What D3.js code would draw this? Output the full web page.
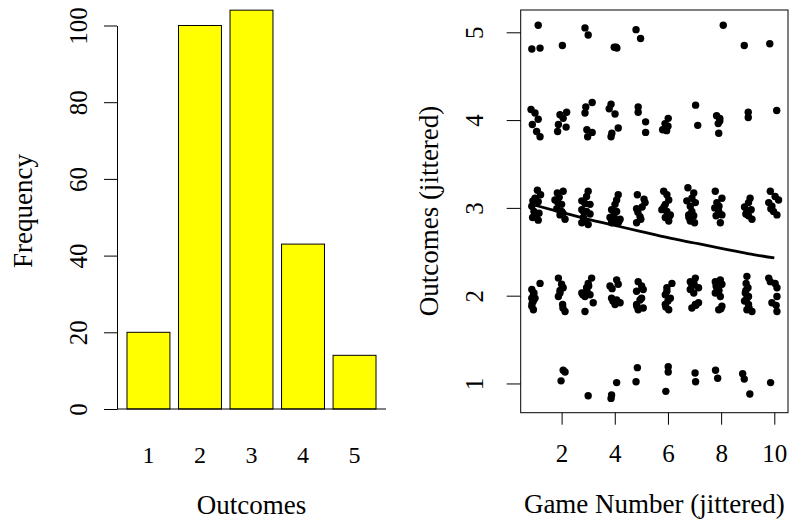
<!DOCTYPE html>
<html>
<head>
<meta charset="utf-8">
<script src="https://cdn.jsdelivr.net/npm/d3@7"></script>
<style>
  body { margin: 0; background: #fff; }
  svg { display: block; }
  text { font-family: "Liberation Serif", "Times New Roman", serif; fill: #000; }
</style>
</head>
<body>
<svg id="chart" width="790" height="520"></svg>
<script>
// left panel: frequency of each outcome
var outcomes = ["1", "2", "3", "4", "5"];
var frequency = [20, 100, 104, 43, 14];
var freqTicks = [0, 20, 40, 60, 80, 100];

// right panel: jittered game number / outcome pairs, one pair of arrays per outcome
var game5 = [1.12, 0.88, 1.19, 2.03, 2.88, 3.00, 3.98, 4.08, 4.80, 4.97, 8.08, 8.87, 9.83, 4.05];
var out5  = [5.08, 4.81, 4.82, 4.85, 5.05, 4.97, 4.83, 4.82, 5.03, 4.93, 5.08, 4.85, 4.87, 4.83];

var game4 = [0.85, 1.00, 1.12, 0.90, 1.06, 1.19, 1.94, 2.19, 2.06, 1.88, 2.17, 1.85,
             2.91, 3.15, 2.88, 2.98, 3.15, 3.86, 3.79, 4.01, 4.13, 3.86, 4.88, 4.88,
             5.16, 5.16, 6.01, 5.89, 5.80, 5.95, 7.04, 7.12, 7.83, 7.95, 7.89, 7.91,
             9.02, 9.02, 10.09, 2.95, 6.00, 7.95, 3.89];
var out4  = [4.12, 4.08, 4.01, 3.95, 3.87, 3.81, 4.06, 4.09, 4.02, 3.95, 3.92, 3.87,
             4.15, 4.20, 4.08, 3.81, 3.86, 4.18, 4.13, 4.07, 3.91, 3.81, 4.15, 4.09,
             3.98, 3.86, 4.02, 3.96, 3.89, 3.88, 4.17, 3.94, 4.05, 3.99, 3.96, 3.85,
             4.09, 4.03, 4.11, 3.89, 3.93, 4.02, 3.85];

var game3 = [1.09, 1.21, 1.00, 1.12, 0.88, 0.96, 1.04, 0.91, 1.12, 0.92, 1.15,
             1.84, 2.06, 1.75, 1.91, 2.00, 1.82, 2.00, 1.94, 2.13, 1.86, 2.05,
             3.00, 2.94, 2.76, 2.88, 3.07, 2.76, 2.94, 3.07, 2.82, 2.76, 3.00, 2.88, 2.84,
             4.13, 4.07, 4.01, 3.88, 4.07, 3.82, 4.01, 4.20, 3.88, 4.13, 3.97, 4.16,
             4.85, 5.14, 5.03, 4.82, 4.95, 4.82, 4.87, 4.98, 5.10,
             5.84, 5.96, 6.03, 5.90, 5.77, 5.96, 6.09, 5.90, 6.03, 5.85, 6.04,
             6.75, 6.97, 6.90, 6.71, 7.03, 6.84, 6.90, 6.78, 6.97, 6.84, 7.00, 6.79,
             7.78, 8.03, 7.84, 7.76, 7.91, 7.81, 8.03, 7.97, 7.92,
             9.09, 9.03, 8.88, 8.97, 9.13, 9.03, 9.16, 8.93,
             9.85, 10.03, 10.16, 9.79, 9.91, 9.97, 10.10, 9.87];
var out3  = [3.20, 3.15, 3.11, 3.07, 3.02, 2.96, 2.92, 2.89, 2.86, 3.08, 2.94,
             3.17, 3.19, 3.09, 3.12, 3.04, 2.99, 2.96, 2.92, 2.87, 3.06, 2.94,
             3.19, 3.13, 3.08, 3.05, 3.04, 2.98, 2.96, 2.93, 2.89, 2.83, 2.81, 2.85, 2.95,
             3.15, 3.09, 3.04, 2.98, 2.96, 2.89, 2.87, 2.87, 2.83, 2.83, 2.92, 2.85,
             3.15, 3.06, 3.01, 2.99, 2.90, 2.83, 2.95, 2.87, 3.10,
             3.19, 3.15, 3.09, 3.04, 2.98, 2.96, 2.92, 2.89, 2.85, 3.01, 2.90,
             3.23, 3.17, 3.11, 3.08, 3.06, 3.02, 2.96, 2.92, 2.91, 2.85, 2.83, 2.89,
             3.19, 3.11, 3.06, 3.00, 2.96, 2.91, 2.92, 2.83, 3.02,
             3.11, 3.06, 3.01, 2.96, 2.98, 2.91, 2.87, 2.93,
             3.19, 3.13, 3.09, 3.06, 3.02, 2.96, 2.92, 2.99];

var game2 = [1.19, 0.88, 0.94, 0.88, 0.94, 0.88, 0.94, 0.96, 0.89, 1.00,
             1.88, 2.00, 2.06, 1.94, 1.88, 2.04, 2.13, 1.94, 2.05,
             3.13, 3.00, 2.94, 2.76, 2.88, 3.07, 3.19, 2.88, 2.95, 2.80, 3.02,
             4.07, 3.82, 4.13, 3.88, 4.07, 4.01, 4.20, 3.93, 3.90,
             4.88, 5.01, 4.82, 5.07, 5.01, 4.82, 5.07, 4.88, 4.95, 4.83,
             6.15, 5.96, 5.90, 6.09, 5.90, 6.03, 5.96, 6.00, 5.92,
             7.03, 6.84, 6.90, 7.15, 6.97, 6.84, 7.03, 6.90, 7.15, 6.98, 7.05,
             7.78, 7.97, 8.03, 7.84, 7.78, 7.97, 8.03, 7.91, 7.92, 7.81, 7.99,
             8.97, 8.94, 9.01, 8.91, 9.03, 8.88, 9.03, 8.97, 9.16, 8.97, 8.93, 9.05,
             9.79, 10.03, 10.10, 10.10, 9.91, 10.10, 9.85, 10.07];
var out2  = [2.14, 2.07, 2.01, 1.97, 1.94, 1.88, 1.84, 2.03, 1.91, 1.97,
             2.20, 2.13, 2.09, 2.03, 1.99, 1.90, 1.82, 2.06, 1.86,
             2.20, 2.14, 2.09, 2.03, 1.99, 2.01, 1.92, 1.82, 2.06, 2.01, 2.11,
             2.18, 2.11, 2.13, 1.97, 1.95, 1.90, 1.92, 1.94, 2.08,
             2.16, 2.11, 2.05, 2.07, 1.97, 1.90, 1.86, 1.84, 1.95, 1.88,
             2.14, 2.09, 2.01, 1.97, 1.90, 1.84, 2.05, 1.94, 1.87,
             2.20, 2.16, 2.11, 2.09, 2.03, 2.07, 1.90, 1.86, 1.92, 2.14, 1.89,
             2.16, 2.18, 2.13, 2.09, 2.03, 1.99, 1.88, 1.84, 2.06, 2.11, 1.85,
             2.22, 2.14, 2.09, 2.03, 1.99, 1.94, 1.90, 1.84, 1.82, 1.97, 2.06, 1.86,
             2.20, 2.14, 2.09, 1.99, 1.92, 1.82, 2.16, 1.89];

var game1 = [2.06, 2.13, 1.98, 3.00, 3.88, 3.86, 4.07, 4.85, 4.80, 6.01,
             6.01, 5.92, 7.02, 7.04, 7.79, 7.87, 8.81, 8.87, 9.08, 9.86];
var out1  = [1.15, 1.13, 1.03, 0.86, 0.87, 0.83, 1.01, 1.18, 1.02, 1.19,
             1.13, 0.91, 1.12, 1.02, 1.15, 1.06, 1.11, 1.05, 0.88, 1.01];

// fitted trend line
var fitGame = [1, 2, 3, 4, 5, 6, 7, 8, 9, 10];
var fitOutcome = [3.03, 2.95, 2.87, 2.80, 2.73, 2.66, 2.60, 2.54, 2.48, 2.43];

var gameTicks = [2, 4, 6, 8, 10];
var outcomeTicks = [1, 2, 3, 4, 5];

var svg = d3.select("#chart");
var tickFont = "25px", titleFont = "27px";

// ---------- left: barplot ----------
var xBar = d3.scaleBand()
  .domain(outcomes)
  .range([117, 386])
  .paddingInner(0.2 / 1.2)
  .paddingOuter(0.194);
var yBar = d3.scaleLinear().domain([0, 100]).range([409, 25.5]);

var left = svg.append("g");

left.selectAll("rect.bar")
  .data(frequency)
  .enter().append("rect")
  .attr("class", "bar")
  .attr("x", function (d, i) { return xBar(outcomes[i]); })
  .attr("width", xBar.bandwidth())
  .attr("y", function (d) { return yBar(d); })
  .attr("height", function (d) { return yBar(0) - yBar(d); })
  .attr("fill", "#ffff00")
  .attr("stroke", "#000")
  .attr("stroke-width", 1);

// baseline under the bars
left.append("line")
  .attr("x1", xBar.range()[0]).attr("x2", xBar.range()[1])
  .attr("y1", yBar(0)).attr("y2", yBar(0))
  .attr("stroke", "#000");

var yAxisL = left.append("g")
  .attr("transform", "translate(" + xBar.range()[0] + ",0)")
  .call(d3.axisLeft(yBar).tickValues(freqTicks).tickSize(13).tickSizeOuter(0));
yAxisL.selectAll("text")
  .attr("transform", "rotate(-90)")
  .attr("x", 0).attr("y", -30).attr("dy", 0)
  .attr("text-anchor", "middle")
  .style("font-size", tickFont);

left.selectAll("text.name")
  .data(outcomes)
  .enter().append("text")
  .attr("class", "name")
  .attr("x", function (d) { return xBar(d) + xBar.bandwidth() / 2; })
  .attr("y", 463)
  .attr("text-anchor", "middle")
  .style("font-size", "24px")
  .text(function (d) { return d; });

left.append("text")
  .attr("x", (xBar.range()[0] + xBar.range()[1]) / 2)
  .attr("y", 514)
  .attr("text-anchor", "middle")
  .style("font-size", titleFont)
  .text("Outcomes");

left.append("text")
  .attr("transform", "translate(32,211) rotate(-90)")
  .attr("text-anchor", "middle")
  .style("font-size", titleFont)
  .text("Frequency");

// ---------- right: jittered scatter ----------
var xs = d3.scaleLinear().domain([0.462, 10.515]).range([520.7, 788]);
var ys = d3.scaleLinear().domain([0.667, 5.254]).range([412.7, 10]);

var right = svg.append("g");

right.append("rect")
  .attr("x", xs.range()[0]).attr("y", ys.range()[1])
  .attr("width", xs.range()[1] - xs.range()[0])
  .attr("height", ys.range()[0] - ys.range()[1])
  .attr("fill", "none").attr("stroke", "#000");

var groups = [[game1, out1], [game2, out2], [game3, out3], [game4, out4], [game5, out5]];
groups.forEach(function (g) {
  right.append("g").selectAll("circle")
    .data(g[0])
    .enter().append("circle")
    .attr("cx", function (d) { return xs(d); })
    .attr("cy", function (d, i) { return ys(g[1][i]); })
    .attr("r", 3.7)
    .attr("fill", "#000");
});

var line = d3.line()
  .x(function (d, i) { return xs(fitGame[i]); })
  .y(function (d) { return ys(d); })
  .curve(d3.curveMonotoneX);
right.append("path")
  .attr("d", line(fitOutcome))
  .attr("fill", "none").attr("stroke", "#000").attr("stroke-width", 2.8);

var xAxisR = right.append("g")
  .attr("transform", "translate(0," + ys.range()[0] + ")")
  .call(d3.axisBottom(xs).tickValues(gameTicks).tickFormat(d3.format("d")).tickSize(12).tickSizeOuter(0));
xAxisR.select(".domain").remove();
xAxisR.selectAll("text")
  .attr("y", 49).attr("dy", 0)
  .style("font-size", tickFont);

var yAxisR = right.append("g")
  .attr("transform", "translate(" + xs.range()[0] + ",0)")
  .call(d3.axisLeft(ys).tickValues(outcomeTicks).tickFormat(d3.format("d")).tickSize(14).tickSizeOuter(0));
yAxisR.select(".domain").remove();
yAxisR.selectAll("text")
  .attr("transform", "rotate(-90)")
  .attr("x", 0).attr("y", -37.5).attr("dy", 0)
  .attr("text-anchor", "middle")
  .style("font-size", tickFont);

right.append("text")
  .attr("x", (xs.range()[0] + xs.range()[1]) / 2)
  .attr("y", 513)
  .attr("text-anchor", "middle")
  .style("font-size", titleFont)
  .text("Game Number (jittered)");

right.append("text")
  .attr("transform", "translate(438,211) rotate(-90)")
  .attr("text-anchor", "middle")
  .style("font-size", titleFont)
  .text("Outcomes (jittered)");

svg.selectAll(".tick line").attr("stroke", "#000");
svg.selectAll(".tick text").style("font-family", "'Liberation Serif', serif").attr("fill", "#000");
</script>
</body>
</html>
